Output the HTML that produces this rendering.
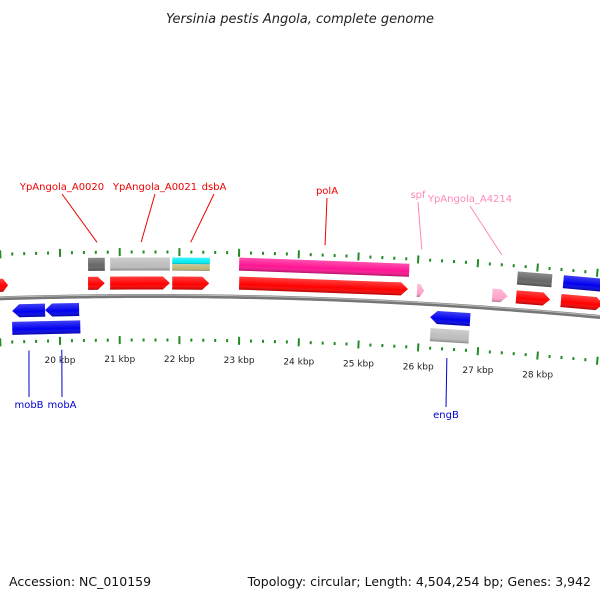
<!DOCTYPE html>
<html><head><meta charset="utf-8"><style>
body{margin:0;background:#fff;width:600px;height:600px;overflow:hidden;font-family:"Liberation Sans","DejaVu Sans",sans-serif}
</style></head><body>
<svg id="map" width="600" height="600" xmlns="http://www.w3.org/2000/svg">
<defs>
<linearGradient id="shade" x1="0" y1="0" x2="0" y2="1"><stop offset="0" stop-color="#fff" stop-opacity="0.25"/><stop offset="0.6" stop-color="#fff" stop-opacity="0"/><stop offset="1" stop-color="#000" stop-opacity="0.3"/></linearGradient>
</defs>
<text x="300" y="23" text-anchor="middle" font-size="13" font-style="italic" fill="#222" font-family="DejaVu Sans, sans-serif">Yersinia pestis Angola, complete genome</text>
<g id="plot"></g>
<text x="9" y="586" font-size="12.5" fill="#111" font-family="DejaVu Sans, sans-serif">Accession: NC_010159</text>
<text x="591" y="586" text-anchor="end" font-size="12.5" fill="#111" font-family="DejaVu Sans, sans-serif">Topology: circular; Length: 4,504,254 bp; Genes: 3,942</text>
</svg>
<script>
// feature data: start kbp, end kbp, track, color, direction (1 fwd arrow, -1 rev arrow, 0 box)
const featStart=[18.99,20.47,20.84,21.88,23.0,25.98,27.24,27.64,28.39, 20.47,20.84,21.88,21.88,23.0,27.66,28.43, 19.2,19.75,26.2, 19.2,26.2];
const featEnd  =[19.13,20.75,21.84,22.5,25.83,26.1,27.5,28.21,29.1, 20.75,21.84,22.51,22.51,25.85,28.24,29.1, 19.75,20.32,26.87, 20.34,26.85];
const featTrack=[-1,-1,-1,-1,-1,-1,-1,-1,-1, -2,-2,-2,-2,-2,-2,-2, 1,1,1, 2,2];
const featColor=["#ff0000","#ff0000","#ff0000","#ff0000","#ff0000","#ffa6cc","#ffa6cc","#ff0000","#ff0000", "#666666","#bdbdbd","#00eef5","#bdb77a","#ff1493","#666666","#0000ee", "#0000ee","#0000ee","#0000ee", "#0000ee","#bdbdbd"];
const featDir  =[1,1,1,1,1,1,1,1,1, 0,0,0,0,0,0,0, -1,-1,-1, 0,0];
// labels: text, kbp position of pointer, label x, label y, color
const labelText=["YpAngola_A0020","YpAngola_A0021","dsbA","polA","spf","YpAngola_A4214","mobB","mobA","engB"];
const labelKbp=[20.62,21.36,22.19,24.44,26.06,27.40,19.48,20.03,26.48];
const labelX=[62,155,214,327,418,470,29,62,446];
const labelY=[190,190,190,194,198,202,408,408,418];
const labelColor=["#ee0000","#ee0000","#ee0000","#ee0000","#ff88bb","#ff88bb","#0000cc","#0000cc","#0000cc"];
const tickLabels=["20 kbp","21 kbp","22 kbp","23 kbp","24 kbp","25 kbp","26 kbp","27 kbp","28 kbp"];
const tickKbp=[20,21,22,23,24,25,26,27,28];
</script>
<script>
const NS="http://www.w3.org/2000/svg",plot=document.getElementById('plot');
const R=4820,XC=150,Y0=296;
function kx(k){return 60+(k-20)*59.7;}
function by(x){return Y0+(x-XC)*(x-XC)/(2*R);}
function ang(x){return Math.atan((x-XC)/R)*180/Math.PI;}
function mk(t,a){const e=document.createElementNS(NS,t);for(const k in a)e.setAttribute(k,a[k]);plot.appendChild(e);return e;}
let d="";for(let x=-5;x<=605;x+=5)d+=(x<0?"M":"L")+x+","+by(x).toFixed(2);
let bb=mk('path',{d:d,stroke:"#777",'stroke-width':4,fill:"none"});


mk('path',{d:d,stroke:"#bbb",'stroke-width':1,fill:"none",transform:"translate(0,-1)"});
const trackOff={"-2":-32,"-1":-13,"1":13,"2":30.5};
for(let i=0;i<featStart.length;i++){
 const x1=kx(featStart[i]),x2=kx(featEnd[i]);const xm=(x1+x2)/2;
 const off=trackOff[String(featTrack[i])];const h=13;
 const y=by(xm)+off-h/2;
 const w=x2-x1,dir=featDir[i],ah=Math.min(7,w*0.6);
 let p;
 if(dir===1)p=`M${x1},${y}L${x2-ah},${y}L${x2},${y+h/2}L${x2-ah},${y+h}L${x1},${y+h}Z`;
 else if(dir===-1)p=`M${x2},${y}L${x1+ah},${y}L${x1},${y+h/2}L${x1+ah},${y+h}L${x2},${y+h}Z`;
 else p=`M${x1},${y}L${x2},${y}L${x2},${y+h}L${x1},${y+h}Z`;
 const tr=`rotate(${ang(xm)},${xm},${y+h/2})`;
 if(featColor[i]==="#00eef5"||featColor[i]==="#bdb77a"){
   const yy=featColor[i]==="#00eef5"?y:y+6.5;
   p=`M${x1},${yy}L${x2},${yy}L${x2},${yy+6.5}L${x1},${yy+6.5}Z`;
 }
 const g=mk('path',{d:p,fill:featColor[i],transform:tr});
 
 
 mk('path',{d:p,fill:"url(#shade)",transform:tr});
}
for(let j=93;j<=147;j++){
 const kr=j/5;const x=kx(kr);if(x<0||x>600)continue;
 const major=j%5===0;
 [-44,44].forEach(o=>{
  const cy=by(x)+o;const L=major?8:3;
  const t=mk('line',{x1:x,y1:cy-L/2,x2:x,y2:cy+L/2,stroke:"#228b22",'stroke-width':2,transform:`rotate(${ang(x)},${x},${cy})`});
  
  
 });
}
for(let i=0;i<tickKbp.length;i++){
 const x=kx(tickKbp[i]);
 const t=mk('text',{x:x,y:by(x)+66,'text-anchor':'middle','font-size':9,fill:"#222",'font-family':"DejaVu Sans, sans-serif"});
 t.textContent=tickLabels[i];
 
 
}
for(let i=0;i<labelText.length;i++){
 const x=kx(labelKbp[i]);const top=labelY[i]>300;
 const yEnd=top?by(x)+53:by(x)-54;
 const ln=mk('line',{x1:labelX[i],y1:top?labelY[i]-11:labelY[i]+4,x2:x,y2:yEnd,stroke:labelColor[i],'stroke-width':1});
 
 
 const t=mk('text',{x:labelX[i],y:labelY[i],'text-anchor':'middle','font-size':10,fill:labelColor[i],'font-family':"DejaVu Sans, sans-serif"});
 t.textContent=labelText[i];
 
 
}
</script>
</body></html>
